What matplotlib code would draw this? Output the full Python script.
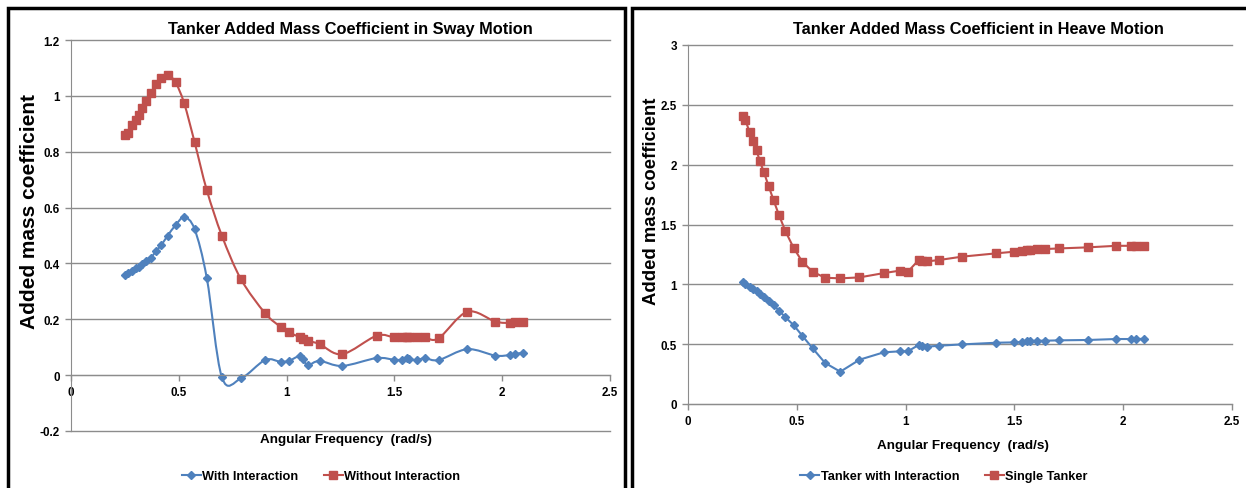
import numpy as np
import matplotlib
matplotlib.use("Agg")
import matplotlib.pyplot as plt
from matplotlib.path import Path
from matplotlib.patches import PathPatch, Rectangle
from matplotlib.lines import Line2D

# angular frequency (rad/s), shared by both panels
freq = [0.252, 0.264, 0.283, 0.300, 0.315, 0.330, 0.349, 0.370, 0.393, 0.418,
        0.448, 0.485, 0.525, 0.573, 0.630, 0.700, 0.788, 0.900, 0.972, 1.010,
        1.060, 1.075, 1.100, 1.153, 1.258, 1.417, 1.500, 1.535, 1.560, 1.570,
        1.605, 1.642, 1.705, 1.838, 1.968, 2.035, 2.060, 2.095]

# sway motion
sway_with = [0.359, 0.365, 0.373, 0.382, 0.389, 0.397, 0.407, 0.419, 0.443, 0.465,
             0.499, 0.537, 0.565, 0.523, 0.347, -0.008, -0.012, 0.054, 0.048, 0.051,
             0.069, 0.057, 0.036, 0.051, 0.033, 0.061, 0.055, 0.055, 0.060, 0.057,
             0.054, 0.061, 0.054, 0.093, 0.070, 0.072, 0.076, 0.080]
sway_without = [0.859, 0.866, 0.895, 0.913, 0.932, 0.955, 0.982, 1.010, 1.041, 1.063,
                1.074, 1.048, 0.973, 0.835, 0.662, 0.499, 0.344, 0.222, 0.173, 0.153,
                0.137, 0.131, 0.123, 0.111, 0.075, 0.141, 0.135, 0.135, 0.135, 0.135,
                0.135, 0.135, 0.132, 0.227, 0.192, 0.187, 0.191, 0.191]

# heave motion
heave_with = [1.022, 1.003, 0.980, 0.960, 0.941, 0.919, 0.896, 0.863, 0.827, 0.780,
              0.724, 0.660, 0.571, 0.465, 0.343, 0.270, 0.370, 0.432, 0.440, 0.440,
              0.493, 0.484, 0.479, 0.487, 0.498, 0.512, 0.515, 0.518, 0.524, 0.526,
              0.529, 0.529, 0.532, 0.535, 0.543, 0.543, 0.543, 0.545]
heave_single = [2.410, 2.373, 2.270, 2.200, 2.120, 2.030, 1.935, 1.824, 1.704, 1.579,
                1.443, 1.306, 1.189, 1.105, 1.055, 1.050, 1.058, 1.094, 1.114, 1.105,
                1.203, 1.192, 1.192, 1.203, 1.231, 1.259, 1.273, 1.281, 1.286, 1.288,
                1.295, 1.295, 1.300, 1.309, 1.322, 1.322, 1.322, 1.322]

blue = '#4F81BD'
red = '#C0504D'
grid_c = '#8C8C8C'
sans = ['Liberation Sans', 'DejaVu Sans']


def smooth_path(x, y):
    # excel-like smoothed line as bezier segments through the data points
    pts = np.column_stack([x, y])
    n = len(pts)
    verts = [pts[0]]
    codes = [Path.MOVETO]
    for i in range(n - 1):
        p0 = pts[i - 1] if i > 0 else pts[i]
        p1 = pts[i]
        p2 = pts[i + 1]
        p3 = pts[i + 2] if i + 2 < n else pts[i + 1]
        verts += [p1 + (p2 - p0) / 6, p2 - (p3 - p1) / 6, p2]
        codes += [Path.CURVE4] * 3
    return Path(verts, codes)


def style_axes(ax, ylim, ystep):
    ax.set_xlim(0, 2.5)
    ax.set_ylim(*ylim)
    ax.set_xticks(np.arange(0, 2.51, 0.5))
    ax.set_xticklabels(['0', '0.5', '1', '1.5', '2', '2.5'])
    yt = np.round(np.arange(ylim[0], ylim[1] + 1e-9, ystep), 2)
    ax.set_yticks(yt)
    ax.set_yticklabels(['%g' % v for v in yt])
    for s in ['top', 'right']:
        ax.spines[s].set_visible(False)
    ax.spines['left'].set_color(grid_c)
    ax.spines['bottom'].set_color(grid_c)
    ax.spines['bottom'].set_position(('data', 0))
    ax.grid(axis='y', color=grid_c, lw=1.0)
    for gl in ax.get_ygridlines():
        gl.set_clip_on(False)
    ax.set_axisbelow(True)
    ax.tick_params(axis='both', color=grid_c, length=4, width=1, direction='out',
                   labelsize=8.4, pad=4)
    for lab in ax.get_xticklabels() + ax.get_yticklabels():
        lab.set_fontfamily(sans)
        lab.set_fontweight('bold')


fig = plt.figure(figsize=(12.46, 4.89), dpi=100)

# panel borders
fig.add_artist(Rectangle((8 / 1246, -0.05), 617 / 1246, 1.05 - 9 / 489, transform=fig.transFigure,
                         fill=False, ec='black', lw=2.5))
fig.add_artist(Rectangle((632 / 1246, -0.05), 0.5, 1.05 - 9 / 489, transform=fig.transFigure,
                         fill=False, ec='black', lw=2.5))

# sway panel
ax1 = fig.add_axes([71 / 1246, 1 - 432 / 489, 539 / 1246, 391 / 489])
style_axes(ax1, (-0.2, 1.2), 0.2)
ax1.add_patch(PathPatch(smooth_path(freq, sway_with), fill=False, ec=blue, lw=1.5))
ax1.add_patch(PathPatch(smooth_path(freq, sway_without), fill=False, ec=red, lw=1.5))
ax1.plot(freq, sway_with, ls='none', marker='D', ms=4.5, color=blue)
ax1.plot(freq, sway_without, ls='none', marker='s', ms=6, color=red)
ax1.set_title('Tanker Added Mass Coefficient in Sway Motion', fontsize=11.8,
              fontweight='bold', family=sans, pad=5, x=0.518)
fig.text(30 / 1246, 1 - 212 / 489, 'Added mass coefficient', rotation=90, ha='center', va='center',
         fontsize=15, fontweight='bold', family=sans)
fig.text(346 / 1246, 1 - 440 / 489, 'Angular Frequency  (rad/s)', ha='center', va='center',
         fontsize=9.7, fontweight='bold', family=sans)

# heave panel
ax2 = fig.add_axes([688 / 1246, 1 - 405 / 489, 544 / 1246, 359 / 489])
style_axes(ax2, (0, 3), 0.5)
ax2.plot(freq, heave_with, lw=1.5, marker='D', ms=4.5, color=blue)
ax2.plot(freq, heave_single, lw=1.5, marker='s', ms=6, color=red)
ax2.set_title('Tanker Added Mass Coefficient in Heave Motion', fontsize=11.8,
              fontweight='bold', family=sans, pad=9, x=0.533)
fig.text(651 / 1246, 1 - 201 / 489, 'Added mass coefficient', rotation=90, ha='center', va='center',
         fontsize=13.3, fontweight='bold', family=sans)
fig.text(963 / 1246, 1 - 446 / 489, 'Angular Frequency  (rad/s)', ha='center', va='center',
         fontsize=9.7, fontweight='bold', family=sans)

# legends
h_blue = Line2D([], [], color=blue, lw=1.5, marker='D', ms=4.5)
h_red = Line2D([], [], color=red, lw=1.5, marker='s', ms=6)
leg_font = {'family': sans, 'weight': 'bold', 'size': 9.2}
fig.legend([h_blue, h_red], ['With Interaction', 'Without Interaction'],
           loc='center', bbox_to_anchor=(321 / 1246, 1 - 477 / 489), ncol=2, frameon=False,
           prop=leg_font, handlelength=1.5, handletextpad=0.1, columnspacing=2.0)
fig.legend([h_blue, h_red], ['Tanker with Interaction', 'Single Tanker'],
           loc='center', bbox_to_anchor=(944 / 1246, 1 - 477 / 489), ncol=2, frameon=False,
           prop=leg_font, handlelength=1.5, handletextpad=0.1, columnspacing=2.0)

fig.savefig('out.png', dpi=100)
